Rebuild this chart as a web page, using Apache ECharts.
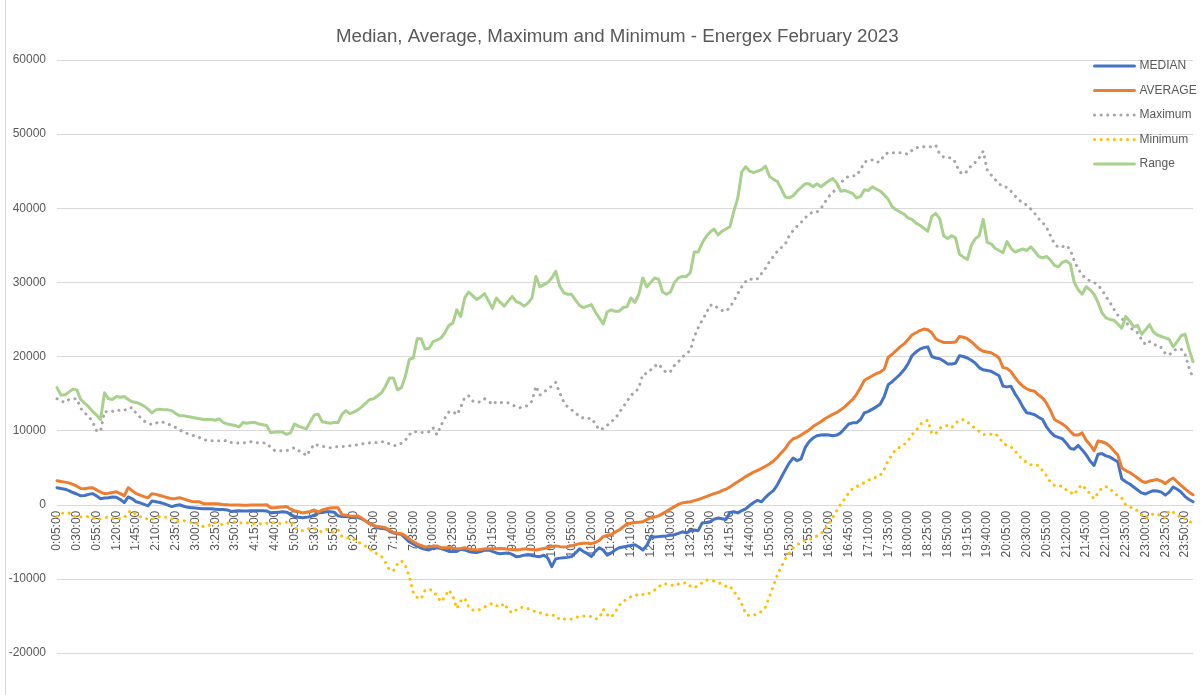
<!DOCTYPE html>
<html>
<head>
<meta charset="utf-8">
<script src="https://cdn.jsdelivr.net/npm/echarts@6/dist/echarts.min.js"></script>
<style>
html,body{margin:0;padding:0;background:#fff;}
#chart{width:1202px;height:695px;}
</style>
</head>
<body>
<div id="chart"></div>
<script>
// 5-minute interval times, 0:05:00 .. 24:00 (shown as 0:00:00)
const categories = [];
for (let m = 5; m <= 1440; m += 5) {
  const h = Math.floor(m / 60) % 24, mm = m % 60;
  categories.push(h + ':' + String(mm).padStart(2, '0') + ':00');
}

const yTicks = [-20000, -10000, 0, 10000, 20000, 30000, 40000, 50000, 60000];

const median = [
2300,2200,2100,1900,1650,1450,1200,1250,1400,1500,
1200,800,900,950,1050,1000,700,300,1050,800,
400,250,50,-150,500,400,300,150,-50,-250,
-100,0,-200,-350,-400,-450,-500,-550,-550,-550,
-600,-650,-650,-700,-900,-850,-800,-850,-850,-800,
-800,-800,-800,-850,-1100,-1050,-1000,-950,-1000,-1300,
-1600,-1700,-1750,-1700,-1600,-1400,-1100,-1050,-950,-950,
-1000,-1500,-1600,-1600,-1650,-1650,-1700,-1900,-2200,-2550,
-2800,-3100,-3200,-3250,-3500,-3800,-3900,-4000,-4500,-5000,
-5300,-5600,-5850,-6000,-6100,-5850,-5800,-5900,-6100,-6300,
-6300,-6300,-6000,-6100,-6300,-6400,-6450,-6300,-6150,-6100,
-6300,-6500,-6600,-6550,-6500,-6700,-7000,-6950,-6800,-6750,
-6850,-6950,-7000,-6800,-7200,-8350,-7300,-7200,-7150,-7100,
-7000,-6500,-5950,-6300,-6600,-7000,-6300,-5800,-6100,-6800,
-6500,-6100,-5800,-5700,-5600,-5500,-5400,-5700,-6100,-5500,
-4400,-4350,-4300,-4250,-4200,-4100,-4050,-3850,-3650,-3800,
-3500,-3400,-3500,-2450,-2400,-2300,-1950,-1800,-1900,-2000,
-1050,-950,-1100,-800,-550,-100,300,600,400,1000,
1500,1900,2700,3700,4700,5650,6300,5950,6200,7700,
8500,9000,9300,9400,9450,9400,9300,9400,9700,10300,
10900,11050,11050,11500,12400,12600,12900,13200,13600,14600,
16200,16600,17100,17600,18200,19000,20100,20600,21000,21200,
21300,20000,19800,19700,19400,19000,19000,19100,20100,20000,
19800,19500,19100,18500,18200,18100,18000,17700,17400,16000,
15900,16000,15000,14200,13200,12400,12300,12150,11800,11500,
10500,9800,9300,9100,8900,8300,7600,7500,8000,7400,
6750,5900,5300,6800,6900,6600,6450,6100,5800,3500,
3100,2800,2400,2000,1600,1450,1700,1900,1850,1700,
1300,1700,2400,2100,1700,1100,700,400
];

const average = [
3250,3150,3050,2950,2750,2500,2200,2150,2250,2300,
2000,1700,1500,1550,1650,1750,1500,1200,2300,1900,
1500,1300,1100,950,1500,1400,1250,1100,950,800,
850,950,800,600,450,400,400,150,150,130,
130,100,0,0,-50,-50,-50,-60,-60,-50,
-50,-50,-30,0,-400,-400,-350,-300,-250,-600,
-800,-950,-1100,-1000,-900,-700,-1000,-700,-550,-450,
-400,-400,-1350,-1400,-1500,-1550,-1500,-1800,-2200,-2550,
-2800,-2950,-3000,-3100,-3400,-3750,-3850,-3900,-4200,-4600,
-5000,-5300,-5500,-5700,-5650,-5600,-5550,-5800,-5800,-5800,
-5850,-5950,-5900,-5800,-5950,-6050,-6100,-6050,-5950,-5950,
-5950,-5950,-5900,-5950,-6000,-6050,-6100,-6050,-5950,-6000,
-6050,-6100,-6000,-5900,-5800,-5650,-5550,-5650,-5700,-5650,
-5550,-5400,-5250,-5200,-5200,-5250,-5100,-4800,-4300,-4150,
-4050,-3700,-3400,-3000,-2600,-2500,-2400,-2350,-2300,-2000,
-1750,-1650,-1500,-1200,-900,-550,-250,50,250,350,
400,550,700,900,1100,1300,1500,1650,1900,2100,
2400,2750,3100,3450,3800,4100,4400,4650,4900,5200,
5500,5900,6400,7000,7600,8400,8900,9100,9400,9750,
10100,10550,10900,11200,11600,11900,12200,12450,12800,13200,
13700,14200,14900,15800,16800,17100,17400,17700,17900,18300,
19900,20300,20800,21300,21700,22300,22900,23200,23500,23700,
23600,23200,22400,22100,21900,21900,21900,21950,22700,22600,
22400,22000,21500,21000,20700,20600,20500,20200,19800,18500,
18400,17950,17200,16500,16000,15650,15400,15300,14800,14400,
13700,12700,11500,11200,10900,10500,9900,9400,9400,9700,
8700,8100,7300,8600,8500,8300,7900,7300,6700,5000,
4600,4350,4000,3600,3200,3000,3200,3300,3400,3200,
2850,3300,3600,3100,2600,2150,1700,1350
];

const maximum = [
14300,14000,13800,14200,14300,14300,13000,12400,11900,11200,
10000,9900,12600,12500,12600,12800,12700,12700,13100,13100,
12300,11800,11300,11000,10800,11000,11200,11100,10900,10700,
10400,10100,9800,9600,9450,9200,9050,8800,8650,8650,
8650,8650,8600,8700,8400,8350,8300,8350,8400,8500,
8400,8350,8350,8300,7700,7300,7300,7300,7300,7500,
7700,7300,7100,6600,7400,8200,8000,7900,7800,7700,
7800,7850,7850,7900,7950,8000,8100,8200,8300,8350,
8400,8400,8500,8500,8200,8000,8000,8300,8700,9450,
9900,9800,9750,9800,9850,10400,9450,10700,11700,12500,
12600,12150,13100,14500,14700,14000,13800,13900,14300,14000,
13500,13900,13800,13750,13750,13500,13200,13100,13200,13400,
14000,16000,14800,15200,15600,16000,16500,15100,13900,13200,
12800,12400,11900,11700,11600,11700,10900,10100,10300,10700,
11200,11600,12400,13200,13900,14800,15100,15800,17600,17700,
18200,18700,19000,18300,17800,18000,18800,19300,19900,20400,
20800,22700,23900,24900,25800,26900,27000,26500,26200,26100,
26600,27500,28500,29400,30100,30500,30300,30500,31200,31900,
32800,33500,34200,34700,35200,36300,37000,37600,38100,38700,
39200,39500,39500,40000,40800,41600,42100,42800,43400,44000,
44300,44400,44400,45200,46200,46500,46500,46200,46300,47200,
47500,47500,47500,47500,47400,47300,47800,48200,48200,48300,
48300,48300,48500,47300,46900,46800,46800,46200,44900,44600,
45000,45800,46200,46800,47700,45200,44500,43900,43300,42900,
42800,42300,41700,41100,40800,40400,39900,39300,38600,38100,
37400,36300,35200,34700,34800,35000,34400,32900,31800,31000,
30500,30200,30000,29600,29000,28100,27300,26400,25600,25100,
24700,24000,23500,23200,22300,21600,22000,21800,21300,21200,
20400,20200,20800,21000,21000,20300,18500,17100
];

const minimum = [
-1600,-1200,-1100,-1100,-1400,-1750,-1650,-1600,-1600,-1700,
-2000,-1900,-1750,-1650,-1800,-1900,-1850,-1750,-1000,-800,
-1350,-1600,-1800,-1950,-2000,-1700,-1600,-1600,-1800,-1900,
-2250,-2200,-2150,-2300,-2400,-2400,-2700,-2950,-2900,-2600,
-2400,-2600,-2700,-2500,-2400,-2300,-2400,-2500,-2450,-2400,
-2600,-2550,-2600,-2500,-2400,-2450,-2500,-2550,-2350,-2300,
-3100,-3300,-3500,-3400,-3150,-3200,-3500,-3650,-3300,-3500,
-3750,-3400,-4300,-4450,-4450,-4700,-5000,-5300,-5600,-6000,
-6300,-6700,-7000,-7800,-8800,-8900,-8000,-7550,-8200,-9700,
-11800,-12500,-12700,-11500,-11400,-11600,-12300,-13100,-12400,-11500,
-12300,-14000,-13000,-12600,-13800,-14200,-14300,-14100,-13800,-13500,
-13300,-13600,-13800,-13300,-14200,-14600,-14200,-13900,-13800,-14000,
-14200,-14500,-14600,-14700,-14900,-14900,-14900,-15500,-15400,-15400,
-15400,-15200,-15100,-15000,-15000,-15100,-15400,-15300,-14100,-14800,
-15200,-14500,-13600,-13100,-12700,-12400,-12300,-12000,-12100,-12150,
-11800,-11500,-11100,-10650,-10700,-10800,-10950,-10700,-10600,-10500,
-11000,-11200,-10900,-10500,-10150,-10200,-10300,-10500,-10700,-11000,
-10950,-11700,-12400,-13400,-14700,-15000,-14900,-14700,-14400,-13800,
-12400,-10900,-9450,-8350,-7300,-6500,-5800,-5400,-5100,-4800,
-4700,-4500,-4200,-3900,-3400,-2600,-1700,-800,100,800,
1600,2200,2450,2700,3000,3300,3600,3700,4000,4800,
6000,6800,7500,7800,8100,8600,9450,10000,10800,11200,
11400,9600,9600,10300,10600,10700,10400,11000,11400,11500,
11200,10700,10300,9900,9500,9450,9500,9600,9100,8300,
8000,7800,7300,6600,6100,5700,5400,5400,5300,4600,
3900,3000,2600,2550,2500,2000,1700,1350,2200,2700,
2000,1500,800,1600,2300,2450,2200,1600,1200,900,
0,-300,-500,-800,-1300,-1800,-1600,-1200,-1300,-1500,
-1750,-800,-1000,-1400,-1700,-1900,-2300,-2400
];

const range = [
15800,14800,14800,15200,15600,15500,14200,13700,13200,12600,
12100,11500,15100,14300,14200,14600,14500,14600,14200,13900,
13800,13600,13300,12900,12400,12800,12900,12800,12800,12700,
12300,12000,12000,11900,11800,11700,11600,11500,11500,11500,
11400,11600,11100,10900,10800,10700,10500,11100,11000,11100,
11100,10900,10800,10700,9700,9800,9850,9800,9500,9700,
10900,10600,10400,10250,11200,12100,12200,11200,11100,11000,
11100,11100,12200,12700,12300,12500,12800,13200,13700,14200,
14300,14700,15100,16000,17100,17100,15500,15800,17300,19600,
19800,22400,22400,21000,21100,22000,22200,22500,23200,24200,
24500,26300,25400,27900,28700,28200,27700,28000,28500,27500,
26500,27900,27300,26800,27500,28100,27400,27200,26800,27200,
27900,30800,29400,29700,30000,30600,31500,29500,28600,28400,
28400,27600,26900,26600,26800,27000,26000,25200,24400,26000,
26300,26100,26100,26600,26700,27900,27300,28400,30600,29400,
30000,30600,30400,28700,28400,28700,30000,30600,30800,30800,
31300,34100,34100,35300,36200,36800,37200,36400,36900,37200,
37500,39600,41400,44900,45600,45000,44800,45000,45200,45700,
44300,43900,43600,42600,41500,41400,41700,42300,42800,43300,
43300,42900,43300,42900,43300,43700,44000,43400,42300,42400,
42200,42000,41400,41600,42500,42400,42900,42600,42300,41800,
41200,40200,39800,39500,39200,38700,38500,38000,37700,37300,
36900,38900,39300,38600,36300,35900,36300,36000,33800,33400,
33100,35000,35900,36300,38500,35400,35200,34600,34300,34000,
35500,34600,34100,34300,34500,34300,34800,34200,33500,33300,
33500,33000,32300,32100,32700,32900,32500,30000,29000,28400,
29400,29000,28400,27300,25900,25200,25000,24900,24400,23800,
25400,24800,24000,24200,23000,23600,24300,23300,22900,22700,
22500,22300,21300,22000,22800,23000,21000,19300
];

const FONT = '"Liberation Sans", Arial, sans-serif';
const TXT = '#595959';

const GRID_TOP = 60, GRID_BOTTOM = 42, CHART_H = 695;
const plotH = CHART_H - GRID_TOP - GRID_BOTTOM;
// place the category axis where the value axis crosses zero
const zeroOffset = -plotH * (0 - yTicks[0]) / (yTicks[yTicks.length - 1] - yTicks[0]);

function lineSeries(name, data, color, dotted) {
  return {
    name: name,
    type: 'line',
    data: data,
    symbol: 'none',
    showSymbol: false,
    smooth: false,
    animation: false,
    lineStyle: dotted
      ? { color: color, width: 3, type: [0.1, 6.5], cap: 'round' }
      : { color: color, width: 3, cap: 'round', join: 'round' },
    itemStyle: { color: color }
  };
}

const chart = echarts.init(document.getElementById('chart'), null, { renderer: 'canvas' });
chart.setOption({
  backgroundColor: '#ffffff',
  animation: false,
  title: {
    text: 'Median, Average, Maximum and Minimum - Energex February 2023',
    left: 336,
    top: 27,
    padding: 0,
    textStyle: { fontFamily: FONT, fontSize: 18.7, fontWeight: 'normal', color: TXT }
  },
  legend: {
    orient: 'vertical',
    left: 1093,
    top: 60,
    padding: 0,
    itemWidth: 40,
    itemHeight: 14,
    itemGap: 12.5,
    itemStyle: { opacity: 0 },
    lineStyle: { width: 3 },
    textStyle: { fontFamily: FONT, fontSize: 12, color: TXT },
    data: ['MEDIAN', 'AVERAGE', 'Maximum', 'Minimum', 'Range']
  },
  grid: { left: 57, right: 9, top: GRID_TOP, bottom: GRID_BOTTOM, containLabel: false, outerBoundsMode: 'none' },
  xAxis: {
    type: 'category',
    data: categories,
    boundaryGap: false,
    offset: zeroOffset,
    axisLine: { onZero: false, lineStyle: { color: '#d9d9d9', width: 1 } },
    axisTick: { show: false },
    axisLabel: {
      interval: 4,
      rotate: 90,
      margin: 6,
      fontFamily: FONT,
      fontSize: 12,
      color: TXT
    },
    splitLine: { show: false }
  },
  yAxis: {
    type: 'value',
    min: yTicks[0],
    max: yTicks[yTicks.length - 1],
    interval: 10000,
    axisLine: { show: false },
    axisTick: { show: false },
    axisLabel: { margin: 11, fontFamily: FONT, fontSize: 12, color: TXT, formatter: v => String(v) },
    splitLine: { lineStyle: { color: '#d9d9d9', width: 1 } }
  },
  graphic: [{
    type: 'line',
    shape: { x1: 5.5, y1: 0, x2: 5.5, y2: 695 },
    style: { stroke: '#d9d9d9', lineWidth: 1 }
  }],
  series: [
    lineSeries('MEDIAN', median, '#4472C4', false),
    lineSeries('AVERAGE', average, '#ED7D31', false),
    lineSeries('Maximum', maximum, '#A5A5A5', true),
    lineSeries('Minimum', minimum, '#FFC000', true),
    lineSeries('Range', range, '#A9D18E', false)
  ]
});
</script>
</body>
</html>
